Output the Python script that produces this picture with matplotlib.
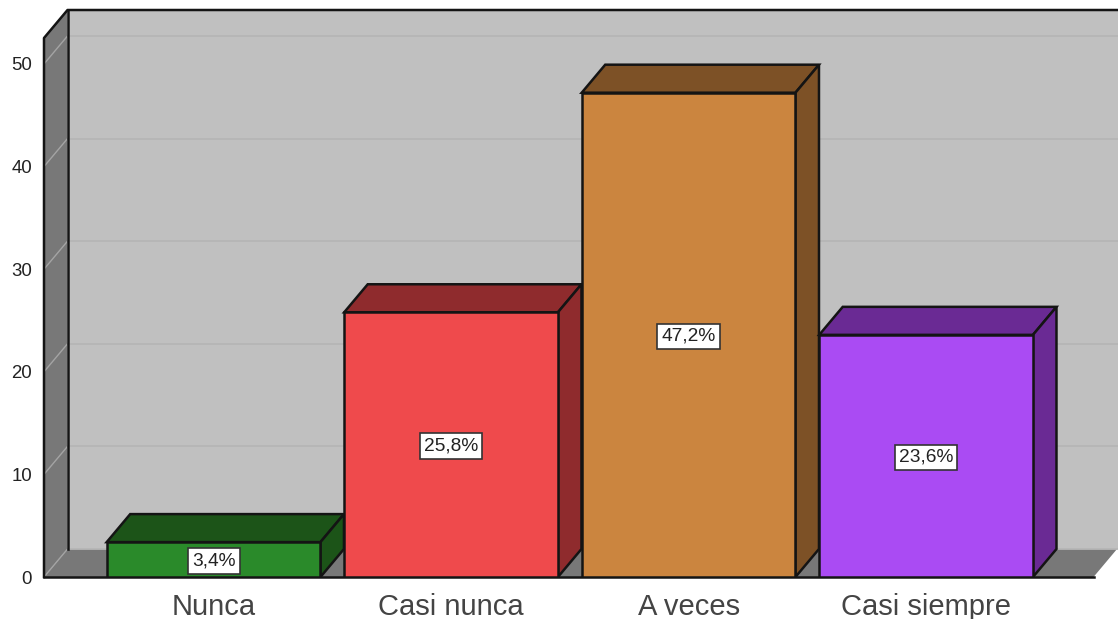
import matplotlib
matplotlib.use("Agg")
import matplotlib.pyplot as plt
import numpy as np

categories = ["Nunca", "Casi nunca", "A veces", "Casi siempre"]
percentages = [3.4, 25.8, 47.2, 23.6]
y_ticks = [0, 10, 20, 30, 40, 50]

front_colors = ["#2a8a2a", "#ef4a4c", "#cb853f", "#aa4bf3"]
shade_colors = ["#1c5418", "#8f2b2d", "#7d5126", "#6a2a94"]

plt.rcParams["font.family"] = ["Liberation Sans", "DejaVu Sans"]

W, H = 1118, 619
fig = plt.figure(figsize=(W / 100, H / 100), dpi=100)
# axes rectangle is the front plane of the box, extended up to hold the depth
ax = fig.add_axes([44 / W, 1 - 577 / H, (W - 44) / W, (577 - 10) / H])
ax.set_xlim(-0.714, 3.808)
ax.set_ylim(0, 55.26)
for s in ax.spines.values():
    s.set_visible(False)
ax.patch.set_visible(False)

# depth of the fake 3d, in data units
dx = 0.099
dy = 2.73
x0, x1 = -0.714, 3.705
right = 3.808
top = 52.53
bar_w = 0.9
edge = "#141414"
lw = 1.8

# walls and floor
ax.fill([x0 + dx, right, right, x0 + dx], [dy, dy, top + dy, top + dy], color="#c0c0c0", lw=0, zorder=1)
ax.fill([x0, x0 + dx, x0 + dx, x0], [0, dy, top + dy, top], color="#787878", lw=0, zorder=2)
ax.fill([x0, x1, x1 + dx, x0 + dx], [0, 0, dy, dy], color="#787878", lw=0, zorder=2)

for t in y_ticks:
    ax.plot([x0 + dx, right], [t + dy, t + dy], color="#b6b6b6", lw=1.3, zorder=3)
    ax.plot([x0, x0 + dx], [t, t + dy], color="#a4a4a4", lw=1.0, zorder=3)

ax.plot([x0 + dx, x0 + dx], [dy, top + dy], color=edge, lw=lw, zorder=4)
ax.plot([x0, x0, x0 + dx, right], [0, top, top + dy, top + dy], color=edge, lw=lw, zorder=4, clip_on=False)
ax.plot([x0, x1], [0, 0], color=edge, lw=lw, zorder=4, clip_on=False)

# bars, left to right so each one sits over the side of the previous
for i, v in enumerate(percentages):
    l = i - bar_w / 2
    r = i + bar_w / 2
    z = 5 + i
    ax.bar(i, v, bar_w, color=front_colors[i], edgecolor=edge, linewidth=lw, zorder=z + 0.2)
    ax.fill([l, l + dx, r + dx, r], [v, v + dy, v + dy, v], facecolor=shade_colors[i],
            edgecolor=edge, linewidth=lw, zorder=z)
    ax.fill([r, r + dx, r + dx, r], [0, dy, v + dy, v], facecolor=shade_colors[i],
            edgecolor=edge, linewidth=lw, zorder=z)
    ax.text(i, v / 2 - 0.15, f"{v:.1f}%".replace(".", ","), ha="center", va="center", fontsize=13.8,
            color="#222222", zorder=20,
            bbox=dict(boxstyle="square,pad=0.22", fc="white", ec="#333333", lw=1.2))

ax.set_xticks(np.arange(len(categories)))
ax.set_xticklabels(categories, fontsize=21, color="#444444")
ax.set_yticks(y_ticks)
ax.set_yticklabels([str(t) for t in y_ticks], fontsize=13.4, color="#222222", va="center_baseline")
ax.tick_params(axis="x", length=0, pad=11.5)
ax.tick_params(axis="y", length=0, pad=8.5)

fig.savefig("out.png", dpi=100)
